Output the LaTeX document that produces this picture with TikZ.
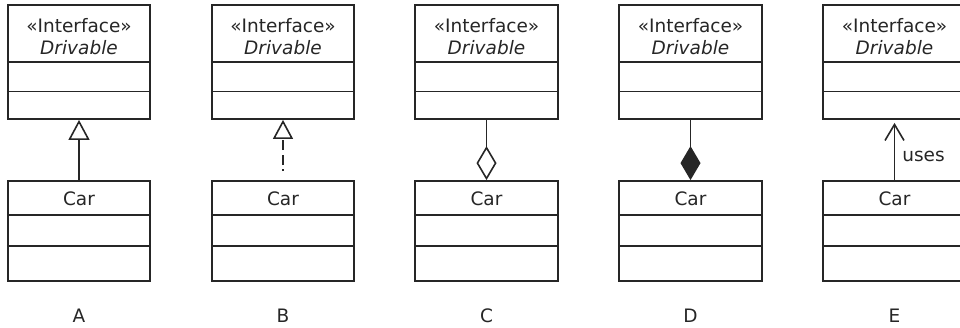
\documentclass[tikz,border=0pt]{standalone}
\usepackage{fontspec}
\setmainfont{DejaVu Sans}
\usetikzlibrary{arrows.meta}
\begin{document}
\begin{tikzpicture}[x=1pt,y=-1pt,
  lw/.style={line width=1.8pt, draw=black!85},
  ibox/.style={lw, rectangle, minimum width=142.5pt, minimum height=114pt, inner sep=0pt},
  cbox/.style={lw, rectangle, minimum width=142.5pt, minimum height=100pt, inner sep=0pt},
  txt/.style={font=\fontsize{18.5}{20}\selectfont, inner sep=0pt, text=black!85},
  lbl/.style={font=\fontsize{18.5}{20}\selectfont, inner sep=0pt, text=black!85},
  conn/.style={line width=1.7pt, draw=black!85},
  gen/.style={conn, -{Triangle[open, length=20pt, width=21pt, line width=1.6pt]}},
  real/.style={conn, -{Triangle[open, length=19pt, width=20pt, line width=1.6pt]}, dash pattern=on 2pt off 4pt on 10pt off 5pt on 10pt off 3pt, shorten <=9pt},
  agg/.style={conn, {Diamond[open, length=34pt, width=20pt, line width=1.6pt]}-},
  comp/.style={conn, {Diamond[length=34pt, width=20pt]}-},
  dep/.style={conn, -{Straight Barb[length=16pt, width=19pt, line width=1.6pt]}, shorten >=3pt}
]
\clip (0,0) rectangle (960,328);
\foreach \n/\x/\L in {1/79/A,2/283/B,3/486.5/C,4/690.5/D,5/894.5/E}{
  \node[ibox] (I\n) at (\x,62) {};
  \draw[lw] (I\n.west |- 0,62) -- (I\n.east |- 0,62);
  \draw[lw] (I\n.west |- 0,91.5) -- (I\n.east |- 0,91.5);
  \node[txt] (S\n) at (\x,26) {«Interface»};
  \node[txt, font=\fontsize{18.5}{20}\selectfont\itshape] (N\n) at (\x,48) {Drivable};
  \node[cbox] (C\n) at (\x,231) {};
  \draw[lw] (C\n.west |- 0,215) -- (C\n.east |- 0,215);
  \draw[lw] (C\n.west |- 0,246) -- (C\n.east |- 0,246);
  \node[txt] (K\n) at (\x,199) {Car};
  \node[lbl] (L\n) at (\x,316) {\L};
}
\draw[gen] (C1.north) -- (I1.south);
\draw[real] (C2.north) -- (I2.south);
\draw[agg] (C3.north) -- (I3.south);
\draw[comp, fill=black] (C4.north) -- (I4.south);
\draw[dep] (C5.north) -- node[pos=0.39, anchor=west, xshift=7pt, inner sep=0pt, txt] (U5) {uses} (I5.south);
\end{tikzpicture}
\end{document}
